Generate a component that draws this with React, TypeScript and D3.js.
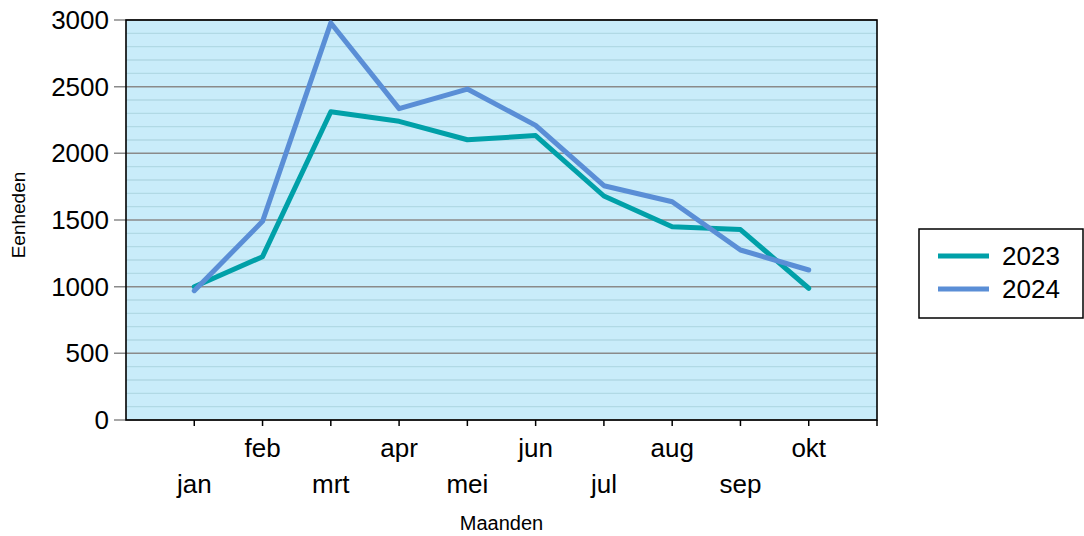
import React, { useRef, useEffect } from "react";
import * as d3 from "d3";

const months = ["jan", "feb", "mrt", "apr", "mei", "jun", "jul", "aug", "sep", "okt"];
const values2023 = [1000, 1225, 2312, 2240, 2102, 2133, 1680, 1450, 1428, 988];
const values2024 = [970, 1490, 2978, 2335, 2482, 2210, 1757, 1637, 1275, 1125];
const yTicks = [0, 500, 1000, 1500, 2000, 2500, 3000];
const seriesNames = ["2023", "2024"];

const colors = { "2023": "#00a0a8", "2024": "#5a8ed6" };
const FONT = "'Liberation Sans', Arial, sans-serif";

const LineChart = () => {
  const chartRef = useRef(null);

  useEffect(() => {
    if (!chartRef.current) return;
    const svg = d3.select(chartRef.current);
    svg.selectAll("*").remove();

    const margin = { top: 20, left: 126, right: 877, bottom: 420 };

    const xScale = d3.scalePoint()
      .domain(months)
      .range([margin.left, margin.right])
      .padding(1);

    const yScale = d3.scaleLinear()
      .domain([0, 3000])
      .range([margin.bottom, margin.top]);

    // plot background
    svg.append("rect")
      .attr("x", margin.left)
      .attr("y", margin.top)
      .attr("width", margin.right - margin.left)
      .attr("height", margin.bottom - margin.top)
      .attr("fill", "#c9ecfa");

    // minor grid every 100
    svg.append("g")
      .selectAll("line")
      .data(d3.range(100, 3000, 100).filter(v => v % 500 !== 0))
      .enter().append("line")
      .attr("x1", margin.left)
      .attr("x2", margin.right)
      .attr("y1", d => yScale(d))
      .attr("y2", d => yScale(d))
      .attr("stroke", "#b1d9e5")
      .attr("stroke-width", 1.3);

    // major grid + tick stubs
    svg.append("g")
      .selectAll("line")
      .data(yTicks)
      .enter().append("line")
      .attr("x1", margin.left - 12)
      .attr("x2", margin.right)
      .attr("y1", d => yScale(d))
      .attr("y2", d => yScale(d))
      .attr("stroke", "#8a8a8a")
      .attr("stroke-width", 1.5);

    svg.append("g")
      .selectAll("text")
      .data(yTicks)
      .enter().append("text")
      .attr("x", 109)
      .attr("y", d => yScale(d))
      .attr("dy", "0.35em")
      .attr("text-anchor", "end")
      .attr("font-family", FONT)
      .attr("font-size", 26)
      .attr("fill", "#000")
      .text(d => d);

    // frame
    svg.append("rect")
      .attr("x", margin.left)
      .attr("y", margin.top)
      .attr("width", margin.right - margin.left)
      .attr("height", margin.bottom - margin.top)
      .attr("fill", "none")
      .attr("stroke", "#000")
      .attr("stroke-width", 1.6);

    // x ticks
    svg.append("g")
      .selectAll("line")
      .data([...months.map(m => xScale(m)), margin.right])
      .enter().append("line")
      .attr("x1", d => d)
      .attr("x2", d => d)
      .attr("y1", margin.bottom)
      .attr("y2", margin.bottom + 6)
      .attr("stroke", "#000")
      .attr("stroke-width", 1.5);

    svg.append("g")
      .selectAll("text")
      .data(months)
      .enter().append("text")
      .attr("x", d => xScale(d))
      .attr("y", (d, i) => (i % 2 === 0 ? 493 : 457))
      .attr("text-anchor", "middle")
      .attr("font-family", FONT)
      .attr("font-size", 26)
      .attr("fill", "#000")
      .text(d => d);

    // axis titles
    svg.append("text")
      .attr("x", (margin.left + margin.right) / 2)
      .attr("y", 530)
      .attr("text-anchor", "middle")
      .attr("font-family", FONT)
      .attr("font-size", 20)
      .text("Maanden");

    svg.append("text")
      .attr("transform", "translate(25,215) rotate(-90)")
      .attr("text-anchor", "middle")
      .attr("font-family", FONT)
      .attr("font-size", 19)
      .text("Eenheden");

    // lines
    const line = d3.line()
      .x((d, i) => xScale(months[i]))
      .y(d => yScale(d));

    [values2023, values2024].forEach((vals, i) => {
      svg.append("path")
        .datum(vals)
        .attr("d", line)
        .attr("fill", "none")
        .attr("stroke", colors[seriesNames[i]])
        .attr("stroke-width", 5)
        .attr("stroke-linejoin", "round")
        .attr("stroke-linecap", "round");
    });

    // legend
    const legend = svg.append("g");
    legend.append("rect")
      .attr("x", 919)
      .attr("y", 229)
      .attr("width", 164)
      .attr("height", 89)
      .attr("fill", "#fff")
      .attr("stroke", "#000")
      .attr("stroke-width", 1.5);

    seriesNames.forEach((name, i) => {
      const y = 256 + i * 33;
      legend.append("line")
        .attr("x1", 938)
        .attr("x2", 989)
        .attr("y1", y)
        .attr("y2", y)
        .attr("stroke", colors[name])
        .attr("stroke-width", 5);
      legend.append("text")
        .attr("x", 1002)
        .attr("y", y)
        .attr("dy", "0.35em")
        .attr("font-family", FONT)
        .attr("font-size", 26)
        .text(name);
    });
  }, []);

  return (
    <svg
      ref={chartRef}
      width={1084}
      height={536}
      style={{ position: "absolute", left: 0, top: 0, background: "#fff" }}
    ></svg>
  );
};

export default function App() {
  return <LineChart />;
}
